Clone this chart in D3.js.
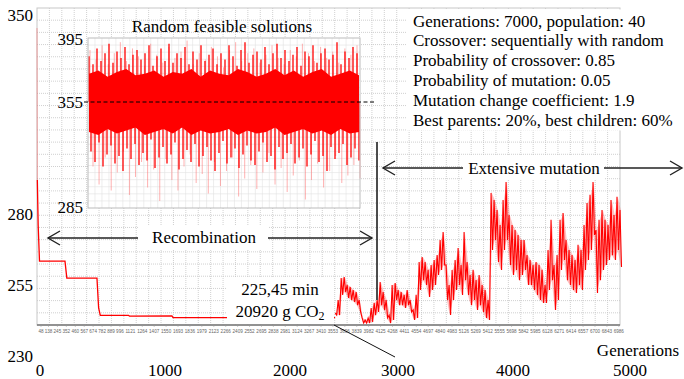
<!DOCTYPE html>
<html>
<head>
<meta charset="utf-8">
<script src="https://cdn.jsdelivr.net/npm/d3@7"></script>
<style>
  body { margin: 0; background: #fff; }
  svg { display: block; }
  text { font-family: "Liberation Serif", serif; }
  text.small { font-family: "Liberation Sans", sans-serif; }
</style>
</head>
<body>
<svg id="chart" width="684" height="379"></svg>
<script>
// outer axis labels
var outerXTicks = [0, 1000, 2000, 3000, 4000, 5000];
var outerYTicks = [230, 255, 280, 350];

// small generation labels under the embedded plot
var genLabels = [48, 138, 245, 352, 460, 567, 674, 782, 889, 996, 1121, 1264, 1407, 1550, 1693, 1836,
  1979, 2123, 2266, 2409, 2552, 2695, 2838, 2981, 3124, 3267, 3410, 3553, 3696, 3839, 3982, 4125,
  4268, 4411, 4554, 4697, 4840, 4983, 5126, 5269, 5412, 5555, 5698, 5842, 5985, 6128, 6271, 6414,
  6557, 6700, 6843, 6986];

// best solution during recombination
var bestGens = [0, 4, 14, 30, 336, 358, 720, 740, 760, 1100, 1110, 1620, 1633, 3580];
var bestValues = [345.4, 291.9, 276.1, 263.4, 263.4, 257.4, 257.4, 246.9, 244.3, 244.3, 244.0, 244.1, 243.5, 243.5];

// extensive mutation: upper / lower values, one pair every 36 generations from 3580
var mutStart = 3580, mutStep = 36;
var mutHigh = [245.1, 249.7, 257.4, 257.8, 255.0, 254.3, 253.2, 252.5, 249.7, 243.4, 242.7, 243.4,
  246.9, 248.7, 249.7, 256.0, 252.5, 249.7, 244.4, 255.0, 255.7, 253.2, 252.5, 251.5, 253.2, 249.7,
  246.2, 251.5, 263.1, 264.8, 263.1, 260.3, 262.0, 263.8, 265.5, 270.8, 273.6, 262.0, 255.0, 260.3,
  263.8, 268.0, 262.0, 273.6, 263.1, 258.5, 260.3, 256.7, 258.5, 255.0, 253.2, 249.7, 287.4, 284.9,
  281.4, 276.1, 284.9, 291.2, 279.6, 276.1, 274.3, 272.6, 270.8, 270.8, 265.5, 263.8, 262.0, 263.1,
  262.0, 260.3, 255.0, 267.3, 277.9, 262.0, 265.5, 277.9, 280.3, 270.8, 267.3, 265.5, 263.8, 269.1,
  267.3, 276.1, 283.8, 286.7, 291.2, 274.3, 277.9, 281.4, 277.9, 276.1, 284.9, 279.6, 286.0, 281.4];
var mutLow = [244.4, 244.4, 251.5, 252.5, 250.4, 249.7, 249.0, 247.9, 245.5, 241.6, 241.6, 241.6,
  242.0, 244.4, 245.5, 247.9, 246.2, 243.4, 241.6, 242.7, 249.7, 247.9, 247.9, 246.9, 247.9, 245.5,
  242.7, 243.4, 253.2, 256.7, 255.0, 250.8, 253.2, 255.0, 258.5, 260.3, 262.0, 249.7, 244.4, 249.7,
  253.2, 255.0, 251.5, 256.7, 251.5, 247.9, 249.7, 246.2, 247.9, 245.5, 243.4, 242.7, 267.3, 270.8,
  263.1, 260.3, 267.3, 270.8, 262.0, 258.5, 260.3, 256.7, 258.5, 260.3, 255.0, 255.0, 253.2, 251.5,
  249.7, 248.7, 248.7, 253.2, 256.7, 246.2, 249.7, 260.3, 263.8, 256.7, 255.0, 253.2, 252.2, 255.0,
  253.2, 260.3, 263.8, 267.3, 272.6, 252.2, 256.7, 260.3, 262.0, 263.8, 265.5, 263.8, 267.3, 261.3];

// inset: random feasible solutions (dense band, ragged edges, light outliers)
var insetTicks = [285, 355, 395];
var insetMean = 355;
var insetBandHigh = [373, 375, 371, 374, 376, 372, 373, 375, 371, 374, 373, 376, 371, 375, 373, 372,
  376, 374, 371, 373, 376, 372, 375, 371, 374, 376, 371, 373, 375, 372];
var insetBandLow = [335, 333, 337, 334, 336, 338, 333, 335, 337, 334, 338, 333, 336, 334, 335, 337,
  333, 336, 334, 335, 338, 333, 335, 337, 334, 336, 333, 337, 334, 335];
var insetHigh = [384, 379, 389, 381, 386, 392, 380, 387, 383, 390, 379, 385, 388, 382, 386, 391, 378,
  384, 389, 381, 392, 380, 386, 383, 390, 379, 387, 382, 391, 381, 385, 389, 379, 386, 382, 391, 384,
  378, 388, 393, 380, 385, 387, 382, 390, 379, 386, 392, 383, 388, 381, 385, 390, 378, 387, 384, 391,
  380, 386, 389, 382, 385, 393, 379, 387, 383, 390, 386];
var insetLow = [322, 315, 328, 312, 320, 326, 314, 319, 309, 324, 317, 327, 313, 321, 316, 330, 311,
  318, 325, 314, 320, 328, 310, 317, 323, 315, 327, 312, 319, 325, 316, 309, 321, 329, 314, 318, 324,
  311, 320, 326, 316, 313, 322, 328, 315, 319, 310, 325, 317, 321, 327, 314, 318, 324, 312, 320, 329,
  315, 319, 309, 325, 317, 321, 327, 313, 318, 324, 316];
var insetSpikeHigh = [388, 382, 391, 379, 386, 393, 381, 389, 384, 378, 392, 385, 380, 390, 383, 387,
  394, 379, 386, 382, 390, 384, 377, 388, 393, 381, 386, 389, 380, 385, 391, 383, 379, 388, 384, 392,
  386, 381, 390, 383, 387, 380, 389, 385, 391];
var insetSpikeLow = [312, 300, 318, 296, 308, 322, 293, 305, 315, 298, 310, 289, 317, 303, 296, 312,
  320, 301, 307, 294, 315, 299, 309, 318, 292, 304, 313, 297, 308, 321, 300, 311, 295, 306, 316, 290,
  303, 314, 298, 309, 319, 301, 306, 313, 304];

var statsLines = ["Generations: 7000, population: 40", "Crossover: sequentially with random",
  "Probability of crossover: 0.85", "Probability of mutation: 0.05",
  "Mutation change coefficient: 1.9", "Best parents: 20%, best children: 60%"];

var svg = d3.select("#chart").attr("font-family", "Liberation Serif, serif");
var plot = {left: 37, right: 620, top: 8, bottom: 325};

var xGen = d3.scaleLinear().domain([0, 7000]).range([plot.left, plot.right]);
var y = d3.scaleLinear().domain([230, 350]).range([356, 15]);
var xOuter = d3.scaleLinear().domain(outerXTicks).range([40, 165, 290, 398, 513, 630]);

// grid of the embedded plot
var gx = d3.scaleLinear().domain([0, 47]).range([plot.left, plot.right]);
var gy = d3.scaleLinear().domain([0, 26]).range([plot.bottom, plot.top]);
var grid = svg.append("g").attr("stroke", "#c4c4c4").attr("stroke-width", 0.8).attr("stroke-dasharray", "1,1");
grid.selectAll(".v").data(d3.range(1, 47)).enter().append("line")
  .attr("x1", d => gx(d)).attr("x2", d => gx(d)).attr("y1", plot.top).attr("y2", plot.bottom);
grid.selectAll(".h").data(d3.range(1, 26)).enter().append("line")
  .attr("x1", plot.left).attr("x2", plot.right).attr("y1", d => gy(d)).attr("y2", d => gy(d));

svg.append("rect").attr("x", plot.left).attr("y", plot.top)
  .attr("width", plot.right - plot.left).attr("height", plot.bottom - plot.top)
  .attr("fill", "none").attr("stroke", "#c8c8c8");

// bottom axis of embedded plot
svg.append("line").attr("x1", plot.left).attr("x2", plot.right)
  .attr("y1", plot.bottom).attr("y2", plot.bottom).attr("stroke", "#777").attr("stroke-width", 1.4);
svg.append("g").selectAll("line").data(genLabels).enter().append("line")
  .attr("x1", d => xGen(d)).attr("x2", d => xGen(d))
  .attr("y1", plot.bottom).attr("y2", plot.bottom + 2).attr("stroke", "#999").attr("stroke-width", 0.5);
svg.append("g").selectAll("text").data(genLabels).enter().append("text")
  .attr("class", "small")
  .attr("x", d => xGen(d)).attr("y", plot.bottom + 7.5)
  .attr("text-anchor", "middle")
  .attr("font-size", 4.6).attr("fill", "#666").text(d => d);

// best solution line
var line = d3.line().x(d => xGen(d[0])).y(d => y(d[1]));
var bestPts = bestGens.map((g, i) => [g, bestValues[i]]);
svg.append("path").datum(bestPts.slice(0, 2)).attr("d", line)
  .attr("fill", "none").attr("stroke", "#f00").attr("stroke-opacity", 0.3).attr("stroke-width", 1);
svg.append("path").datum(bestPts.slice(1)).attr("d", line)
  .attr("fill", "none").attr("stroke", "#f00").attr("stroke-width", 1.3);

var mutPts = [];
mutHigh.forEach((v, i) => {
  mutPts.push([mutStart + i * mutStep, v]);
  mutPts.push([mutStart + i * mutStep + mutStep / 2, mutLow[i]]);
});
var mutBand = d3.area()
  .x((d, i) => xGen(mutStart + i * mutStep + mutStep / 4))
  .y0((d, i) => y(mutLow[i])).y1(d => y(d));
svg.append("path").datum(mutHigh).attr("d", mutBand)
  .attr("fill", "#ff3030").attr("fill-opacity", 0.3);
svg.append("path").datum(mutPts).attr("d", line)
  .attr("fill", "none").attr("stroke", "#ff0000").attr("stroke-width", 1.1);

// inset
var inset = {left: 88, right: 360, top: 38, bottom: 208};
var yIn = d3.scaleLinear().domain(insetTicks).range([207, 102, 39]);
var ins = svg.append("g");
ins.append("rect").attr("x", inset.left).attr("y", inset.top)
  .attr("width", inset.right - inset.left).attr("height", inset.bottom - inset.top).attr("fill", "#fff");
var igx = d3.scaleLinear().domain([0, 39]).range([inset.left, inset.right]);
var igy = d3.scaleLinear().domain([0, 24]).range([inset.bottom, inset.top]);
var igrid = ins.append("g").attr("stroke", "#e2e2e2").attr("stroke-width", 0.6);
igrid.selectAll(".v").data(d3.range(1, 39)).enter().append("line")
  .attr("x1", d => igx(d)).attr("x2", d => igx(d)).attr("y1", inset.top).attr("y2", inset.bottom);
igrid.selectAll(".h").data(d3.range(1, 24)).enter().append("line")
  .attr("x1", inset.left).attr("x2", inset.right).attr("y1", d => igy(d)).attr("y2", d => igy(d));

// light outliers as vertical strokes from the mean
var xSpike = d3.scaleLinear().domain([0, insetSpikeHigh.length - 1]).range([inset.left + 2, inset.right - 3]);
var spikes = ins.append("g").attr("stroke", "#ff6060").attr("stroke-opacity", 0.55).attr("stroke-width", 0.9);
spikes.selectAll(".sh").data(insetSpikeHigh).enter().append("line")
  .attr("x1", (d, i) => xSpike(i)).attr("x2", (d, i) => xSpike(i))
  .attr("y1", yIn(insetMean)).attr("y2", d => yIn(d));
spikes.selectAll(".sl").data(insetSpikeLow).enter().append("line")
  .attr("x1", (d, i) => xSpike(i) + 3).attr("x2", (d, i) => xSpike(i) + 3)
  .attr("y1", yIn(insetMean)).attr("y2", d => yIn(d));

// dense core
var xBand = d3.scaleLinear().domain([0, insetBandHigh.length - 1]).range([inset.left + 1, inset.right - 1]);
ins.append("path").datum(insetBandHigh)
  .attr("d", d3.area().x((d, i) => xBand(i)).y0((d, i) => yIn(insetBandLow[i])).y1(d => yIn(d)))
  .attr("fill", "#ff0000");

var xCore = d3.scaleLinear().domain([0, insetHigh.length - 1]).range([inset.left + 1, inset.right - 3]);
var core = ins.append("g").attr("stroke", "#ff0000").attr("stroke-width", 1.3);
core.selectAll(".ch").data(insetHigh).enter().append("line")
  .attr("x1", (d, i) => xCore(i)).attr("x2", (d, i) => xCore(i))
  .attr("y1", yIn(insetMean)).attr("y2", d => yIn(d));
core.selectAll(".cl").data(insetLow).enter().append("line")
  .attr("x1", (d, i) => xCore(i) + 2).attr("x2", (d, i) => xCore(i) + 2)
  .attr("y1", yIn(insetMean)).attr("y2", d => yIn(d));

ins.append("rect").attr("x", inset.left).attr("y", inset.top)
  .attr("width", inset.right - inset.left).attr("height", inset.bottom - inset.top)
  .attr("fill", "none").attr("stroke", "#bbb");
ins.append("line").attr("x1", inset.left - 4).attr("x2", inset.right + 16)
  .attr("y1", yIn(insetMean)).attr("y2", yIn(insetMean))
  .attr("stroke", "#000").attr("stroke-width", 1).attr("stroke-dasharray", "4,2.5");
ins.selectAll(".lab").data(insetTicks).enter().append("text")
  .attr("x", 83).attr("y", d => yIn(d)).attr("dy", "0.35em").attr("text-anchor", "end")
  .attr("font-size", 17).text(d => d);
svg.append("text").attr("x", 222).attr("y", 32).attr("text-anchor", "middle")
  .attr("font-size", 17).text("Random feasible solutions");

// outer axes labels
svg.append("g").selectAll("text").data(outerYTicks).enter().append("text")
  .attr("x", 33).attr("y", d => y(d)).attr("dy", "0.35em").attr("text-anchor", "end")
  .attr("font-size", 17).text(d => d);
svg.append("g").selectAll("text").data(outerXTicks).enter().append("text")
  .attr("x", d => xOuter(d)).attr("y", 376).attr("text-anchor", "middle")
  .attr("font-size", 17).text(d => d);
svg.append("text").attr("x", 679).attr("y", 356).attr("text-anchor", "end")
  .attr("font-size", 17).text("Generations");

// stats box
svg.append("rect").attr("x", 407).attr("y", 9.5).attr("width", 277).attr("height", 121).attr("fill", "#fff");
svg.append("g").selectAll("text").data(statsLines).enter().append("text")
  .attr("x", 413).attr("y", (d, i) => 26.5 + i * 19.8).attr("font-size", 17).text(d => d);

// arrows
function arrow(x1, x2, yy) {
  var g = svg.append("g").attr("stroke", "#222").attr("stroke-width", 1.4).attr("fill", "none");
  g.append("line").attr("x1", x1).attr("x2", x2).attr("y1", yy).attr("y2", yy);
  g.append("path").attr("d", "M" + (x1 + 12) + "," + (yy - 7) + "L" + x1 + "," + yy + "L" + (x1 + 12) + "," + (yy + 7));
  g.append("path").attr("d", "M" + (x2 - 12) + "," + (yy - 7) + "L" + x2 + "," + yy + "L" + (x2 - 12) + "," + (yy + 7));
}
arrow(48, 372, 238);
svg.append("rect").attr("x", 138).attr("y", 226).attr("width", 130).attr("height", 24).attr("fill", "#fff");
svg.append("text").attr("x", 204).attr("y", 243).attr("text-anchor", "middle")
  .attr("font-size", 17).text("Recombination");

arrow(383, 682, 168);
svg.append("rect").attr("x", 463).attr("y", 156).attr("width", 141).attr("height", 24).attr("fill", "#fff");
svg.append("text").attr("x", 534).attr("y", 173.5).attr("text-anchor", "middle")
  .attr("font-size", 17).text("Extensive mutation");

svg.append("line").attr("x1", 377).attr("x2", 377).attr("y1", 142).attr("y2", 300)
  .attr("stroke", "#111").attr("stroke-width", 1.5);

// best result label
svg.append("rect").attr("x", 227).attr("y", 277).attr("width", 107).attr("height", 47).attr("fill", "#fff");
svg.append("text").attr("x", 280).attr("y", 295).attr("text-anchor", "middle")
  .attr("font-size", 17).text("225,45 min");
var co = svg.append("text").attr("x", 280).attr("y", 317).attr("text-anchor", "middle").attr("font-size", 17);
co.append("tspan").text("20920 g CO");
co.append("tspan").attr("font-size", 12).attr("dy", 3).text("2");
svg.append("line").attr("x1", 334).attr("y1", 325).attr("x2", 395).attr("y2", 357)
  .attr("stroke", "#111").attr("stroke-width", 1);
</script>
</body>
</html>
